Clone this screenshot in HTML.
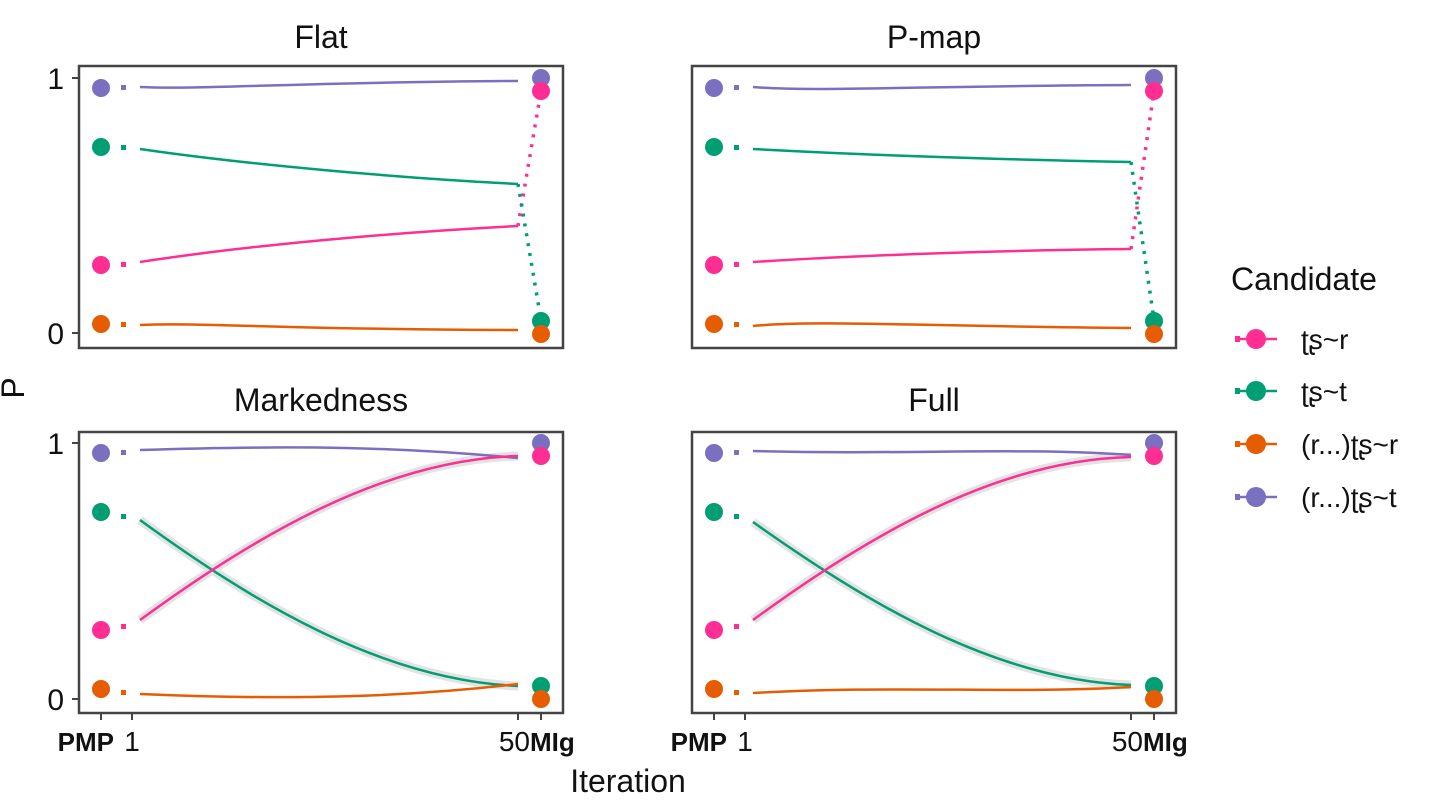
<!DOCTYPE html>
<html><head><meta charset="utf-8"><style>
html,body{margin:0;padding:0;background:#fff;}
text{font-family:"Liberation Sans",sans-serif;fill:#111;}
</style></head><body>
<svg width="1430" height="802" viewBox="0 0 1430 802" xmlns="http://www.w3.org/2000/svg">

<!-- ========== Flat (top-left) ========== -->
<g>
<text x="321" y="48" font-size="32" text-anchor="middle">Flat</text>
<rect x="79" y="66" width="484" height="282" fill="none" stroke="#444" stroke-width="2.5"/>
<line x1="72" y1="78" x2="79" y2="78" stroke="#444" stroke-width="2"/>
<line x1="72" y1="333" x2="79" y2="333" stroke="#444" stroke-width="2"/>
<text x="64" y="89" font-size="30" text-anchor="end">1</text>
<text x="64" y="344" font-size="30" text-anchor="end">0</text>
<g fill="none" stroke-width="2.5">
<path d="M140 87 C200 90 300 82 518 81" stroke="#7b6fbf"/>
<path d="M140 149 C250 165 400 178 518 184" stroke="#009e73"/>
<path d="M140 262 C250 245 400 232 518 226" stroke="#ff2e93"/>
<path d="M140 325 C200 322 300 330 518 330" stroke="#e65c00"/>
</g>
<g stroke-width="3.5" stroke-dasharray="3 7" fill="none">
<path d="M518 226 L541 91" stroke="#ff2e93"/>
<path d="M518 184 L541 320" stroke="#009e73"/>
</g>
<rect x="121" y="85" width="5" height="5" fill="#7b6fbf"/>
<rect x="121" y="145" width="5" height="5" fill="#009e73"/>
<rect x="121" y="262" width="5" height="5" fill="#ff2e93"/>
<rect x="121" y="322" width="5" height="5" fill="#e65c00"/>
<circle cx="101" cy="88" r="9" fill="#7b6fbf"/>
<circle cx="101" cy="147" r="9" fill="#009e73"/>
<circle cx="101" cy="265" r="9" fill="#ff2e93"/>
<circle cx="101" cy="324" r="9" fill="#e65c00"/>
<circle cx="541" cy="78" r="9" fill="#7b6fbf"/>
<circle cx="541" cy="91" r="9" fill="#ff2e93"/>
<circle cx="541" cy="321" r="9" fill="#009e73"/>
<circle cx="541" cy="334" r="9" fill="#e65c00"/>
</g>

<!-- ========== P-map (top-right) ========== -->
<g transform="translate(613,0)">
<text x="321" y="48" font-size="32" text-anchor="middle">P-map</text>
<rect x="79" y="66" width="484" height="282" fill="none" stroke="#444" stroke-width="2.5"/>
<g fill="none" stroke-width="2.5">
<path d="M140 87 C200 92 300 86 518 85" stroke="#7b6fbf"/>
<path d="M140 149 C250 155 400 160 518 162" stroke="#009e73"/>
<path d="M140 262 C250 255 400 250 518 249" stroke="#ff2e93"/>
<path d="M140 326 C200 320 300 326 518 328" stroke="#e65c00"/>
</g>
<g stroke-width="3.5" stroke-dasharray="3 7" fill="none">
<path d="M518 249 L541 91" stroke="#ff2e93"/>
<path d="M518 162 L541 320" stroke="#009e73"/>
</g>
<rect x="121" y="85" width="5" height="5" fill="#7b6fbf"/>
<rect x="121" y="145" width="5" height="5" fill="#009e73"/>
<rect x="121" y="262" width="5" height="5" fill="#ff2e93"/>
<rect x="121" y="322" width="5" height="5" fill="#e65c00"/>
<circle cx="101" cy="88" r="9" fill="#7b6fbf"/>
<circle cx="101" cy="147" r="9" fill="#009e73"/>
<circle cx="101" cy="265" r="9" fill="#ff2e93"/>
<circle cx="101" cy="324" r="9" fill="#e65c00"/>
<circle cx="541" cy="78" r="9" fill="#7b6fbf"/>
<circle cx="541" cy="91" r="9" fill="#ff2e93"/>
<circle cx="541" cy="321" r="9" fill="#009e73"/>
<circle cx="541" cy="334" r="9" fill="#e65c00"/>
</g>

<!-- ========== Markedness (bottom-left) ========== -->
<g>
<text x="321" y="411" font-size="32" text-anchor="middle">Markedness</text>
<rect x="79" y="432" width="484" height="281" fill="none" stroke="#444" stroke-width="2.5"/>
<line x1="72" y1="443" x2="79" y2="443" stroke="#444" stroke-width="2"/>
<line x1="72" y1="699" x2="79" y2="699" stroke="#444" stroke-width="2"/>
<text x="64" y="454" font-size="30" text-anchor="end">1</text>
<text x="64" y="710" font-size="30" text-anchor="end">0</text>
<g fill="none" stroke-width="9" stroke="#ddd" opacity="0.8">
<path d="M140 520 C250 600 380 680 518 686"/>
<path d="M140 620 C250 540 380 460 518 456"/>
</g>
<g fill="none" stroke-width="2.5">
<path d="M140 450 C300 445 400 447 518 458" stroke="#7b6fbf"/>
<path d="M140 520 C250 600 380 680 518 686" stroke="#009e73"/>
<path d="M140 620 C250 540 380 460 518 456" stroke="#ff2e93"/>
<path d="M140 694 C280 700 400 698 518 684" stroke="#e65c00"/>
</g>
<line x1="101" y1="713" x2="101" y2="720" stroke="#444" stroke-width="2"/>
<line x1="132" y1="713" x2="132" y2="720" stroke="#444" stroke-width="2"/>
<line x1="518" y1="713" x2="518" y2="720" stroke="#444" stroke-width="2"/>
<line x1="541" y1="713" x2="541" y2="720" stroke="#444" stroke-width="2"/>
<text x="114" y="751" font-size="26" font-weight="bold" text-anchor="end">PMP</text>
<text x="132" y="751" font-size="28" text-anchor="middle">1</text>
<text x="530" y="751" font-size="28" text-anchor="end">50</text>
<text x="530" y="751" font-size="26" font-weight="bold" text-anchor="start">MIg</text>
<rect x="121" y="450" width="5" height="5" fill="#7b6fbf"/>
<rect x="121" y="514" width="5" height="5" fill="#009e73"/>
<rect x="121" y="624" width="5" height="5" fill="#ff2e93"/>
<rect x="121" y="690" width="5" height="5" fill="#e65c00"/>
<circle cx="101" cy="453" r="9" fill="#7b6fbf"/>
<circle cx="101" cy="512" r="9" fill="#009e73"/>
<circle cx="101" cy="630" r="9" fill="#ff2e93"/>
<circle cx="101" cy="689" r="9" fill="#e65c00"/>
<circle cx="541" cy="443" r="9" fill="#7b6fbf"/>
<circle cx="541" cy="456" r="9" fill="#ff2e93"/>
<circle cx="541" cy="686" r="9" fill="#009e73"/>
<circle cx="541" cy="699" r="9" fill="#e65c00"/>
</g>

<!-- ========== Full (bottom-right) ========== -->
<g transform="translate(613,0)">
<text x="321" y="411" font-size="32" text-anchor="middle">Full</text>
<rect x="79" y="432" width="484" height="281" fill="none" stroke="#444" stroke-width="2.5"/>
<g fill="none" stroke-width="9" stroke="#ddd" opacity="0.8">
<path d="M140 522 C250 600 380 680 518 685"/>
<path d="M140 620 C250 540 380 460 518 457"/>
</g>
<g fill="none" stroke-width="2.5">
<path d="M140 451 C300 455 400 447 518 455" stroke="#7b6fbf"/>
<path d="M140 522 C250 600 380 680 518 685" stroke="#009e73"/>
<path d="M140 620 C250 540 380 460 518 457" stroke="#ff2e93"/>
<path d="M140 693 C280 685 400 694 518 687" stroke="#e65c00"/>
</g>
<line x1="101" y1="713" x2="101" y2="720" stroke="#444" stroke-width="2"/>
<line x1="132" y1="713" x2="132" y2="720" stroke="#444" stroke-width="2"/>
<line x1="518" y1="713" x2="518" y2="720" stroke="#444" stroke-width="2"/>
<line x1="541" y1="713" x2="541" y2="720" stroke="#444" stroke-width="2"/>
<text x="114" y="751" font-size="26" font-weight="bold" text-anchor="end">PMP</text>
<text x="132" y="751" font-size="28" text-anchor="middle">1</text>
<text x="530" y="751" font-size="28" text-anchor="end">50</text>
<text x="530" y="751" font-size="26" font-weight="bold" text-anchor="start">MIg</text>
<rect x="121" y="450" width="5" height="5" fill="#7b6fbf"/>
<rect x="121" y="514" width="5" height="5" fill="#009e73"/>
<rect x="121" y="624" width="5" height="5" fill="#ff2e93"/>
<rect x="121" y="690" width="5" height="5" fill="#e65c00"/>
<circle cx="101" cy="453" r="9" fill="#7b6fbf"/>
<circle cx="101" cy="512" r="9" fill="#009e73"/>
<circle cx="101" cy="630" r="9" fill="#ff2e93"/>
<circle cx="101" cy="689" r="9" fill="#e65c00"/>
<circle cx="541" cy="443" r="9" fill="#7b6fbf"/>
<circle cx="541" cy="456" r="9" fill="#ff2e93"/>
<circle cx="541" cy="686" r="9" fill="#009e73"/>
<circle cx="541" cy="699" r="9" fill="#e65c00"/>
</g>

<!-- axis titles -->
<text x="628" y="792" font-size="32" text-anchor="middle">Iteration</text>
<text x="0" y="0" font-size="32" text-anchor="middle" transform="translate(24,388) rotate(-90)">P</text>

<!-- legend -->
<text x="1231" y="290" font-size="32">Candidate</text>
<g stroke-width="2.5">
<line x1="1236" y1="339" x2="1277" y2="339" stroke="#ff2e93"/>
<rect x="1235" y="336" width="5" height="6" fill="#ff2e93"/>
<circle cx="1256" cy="339" r="10" fill="#ff2e93"/>
<line x1="1236" y1="391" x2="1277" y2="391" stroke="#009e73"/>
<rect x="1235" y="388" width="5" height="6" fill="#009e73"/>
<circle cx="1256" cy="391" r="10" fill="#009e73"/>
<line x1="1236" y1="444" x2="1277" y2="444" stroke="#e65c00"/>
<rect x="1235" y="441" width="5" height="6" fill="#e65c00"/>
<circle cx="1256" cy="444" r="10" fill="#e65c00"/>
<line x1="1236" y1="497" x2="1277" y2="497" stroke="#7b6fbf"/>
<rect x="1235" y="494" width="5" height="6" fill="#7b6fbf"/>
<circle cx="1256" cy="497" r="10" fill="#7b6fbf"/>
</g>
<text x="1301" y="349" font-size="28">ʈʂ~r</text>
<text x="1301" y="401" font-size="28">ʈʂ~t</text>
<text x="1301" y="454" font-size="28">(r...)ʈʂ~r</text>
<text x="1301" y="507" font-size="28">(r...)ʈʂ~t</text>
</svg>
</body></html>
